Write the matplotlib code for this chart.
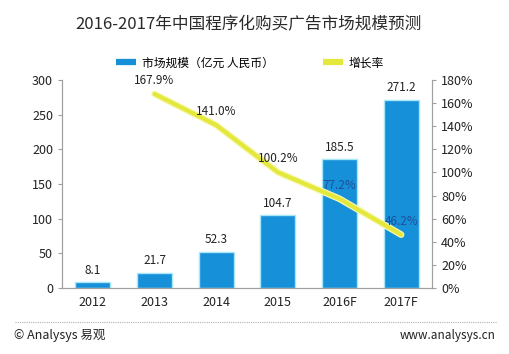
import matplotlib
matplotlib.use('Agg')
import matplotlib.pyplot as plt
import matplotlib.patheffects as pe
from matplotlib.lines import Line2D
import numpy as np

plt.rcParams['font.family'] = ['Noto Sans CJK SC', 'DejaVu Sans']

# DATA ##########################################
years = ['2012', '2013', '2014', '2015', '2016F', '2017F']
market_size = [8.1, 21.7, 52.3, 104.7, 185.5, 271.2]
growth_years = ['2013', '2014', '2015', '2016F', '2017F']
growth_rate = [167.9, 141.0, 100.2, 77.2, 46.2]

title = '2016-2017年中国程序化购买广告市场规模预测'
bar_label = '市场规模（亿元 人民币）'
line_label = '增长率'

# FIGURE ########################################
fig = plt.figure(figsize=(5.10, 3.54), dpi=100)
ax = fig.add_axes([0.1216, 0.1864, 0.7254, 0.5876])
ax2 = ax.twinx()

x = np.arange(len(years))
xg = [years.index(y) for y in growth_years]

bar_color = '#1690d9'
line_color = '#e4e83a'
axis_color = '#a0a0a0'

ax.bar(x, market_size, width=0.57, color=bar_color, edgecolor='#a8e6f8', linewidth=1, zorder=2)
for xi, v in zip(x, market_size):
    ax.annotate(f'{v}', (xi, v), xytext=(0, 4), textcoords='offset points',
                ha='center', va='bottom', fontsize=8.5, color='#222222')

ax2.plot(xg, growth_rate, color=line_color, linewidth=3, solid_capstyle='round',
         path_effects=[pe.Stroke(linewidth=4.8, foreground='#f6f7b0'), pe.Normal()], zorder=3)
for xi, v in zip(xg, growth_rate):
    c = '#1f4f9a' if v < 90 else '#222222'
    ax2.annotate(f'{v:.1f}%', (xi, v), xytext=(0, 5), textcoords='offset points',
                 ha='center', va='bottom', fontsize=8.5, color=c)

# AXES ##########################################
ax.set_xlim(-0.5, len(years) - 0.5)
ax.set_ylim(0, 300)
ax.set_yticks(range(0, 301, 50))
ax2.set_ylim(0, 180)
ax2.set_yticks(range(0, 181, 20))
ax2.set_yticklabels([f'{t}%' for t in range(0, 181, 20)])
ax.set_xticks(x)
ax.set_xticklabels(years)

for a in (ax, ax2):
    a.spines['top'].set_visible(False)
    for s in ('left', 'right', 'bottom'):
        a.spines[s].set_color(axis_color)
    a.tick_params(labelsize=9, colors=axis_color, labelcolor='#222222', length=3)
ax.tick_params(axis='x', length=0, pad=6)
ax.set_zorder(ax2.get_zorder() - 1)
ax2.patch.set_visible(False)

# LEGEND ########################################
handles = [Line2D([0], [0], color=bar_color, lw=4.5, solid_capstyle='butt'),
           Line2D([0], [0], color=line_color, lw=4.5, solid_capstyle='butt')]
fig.legend(handles, [bar_label, line_label], loc='center', bbox_to_anchor=(0.49, 0.822),
           ncol=2, frameon=False, fontsize=8.5, handlelength=1.7, columnspacing=4.2,
           handletextpad=0.5)

# TITLE AND FOOTER ##############################
fig.text(0.487, 0.93, title, ha='center', va='center', fontsize=12, color='#2a2a2a')
fig.add_artist(Line2D([0.03, 0.975], [0.09, 0.09], color='#b0b0b0', lw=0.8,
                      linestyle=(0, (1, 1))))
fig.text(0.028, 0.052, '© Analysys 易观', ha='left', va='center', fontsize=9, color='#222222')
fig.text(0.972, 0.052, 'www.analysys.cn', ha='right', va='center', fontsize=8.5, color='#222222')

fig.savefig('out.png', dpi=100)
